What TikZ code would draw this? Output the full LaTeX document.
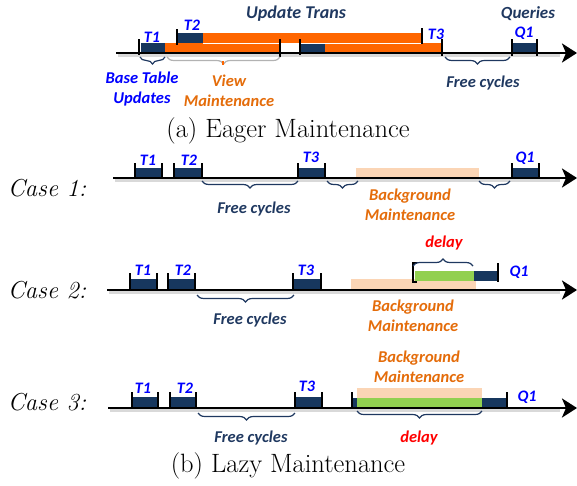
\documentclass[tikz,border=0pt]{standalone}
\usepackage{fontspec}
\newfontfamily\calib{Carlito}
\usetikzlibrary{arrows.meta,decorations.pathreplacing}
\definecolor{navy}{RGB}{31,56,96}
\definecolor{boxnavy}{RGB}{23,55,94}
\definecolor{org}{RGB}{255,102,0}
\definecolor{orgtxt}{RGB}{228,108,10}
\definecolor{peach}{RGB}{251,213,181}
\definecolor{grn}{RGB}{146,208,80}
\definecolor{lblue}{RGB}{0,0,255}
\tikzset{
  axisln/.style={line width=2.8pt,-{Stealth[length=15pt,width=19pt,inset=4pt]}},
  shadowln/.style={line width=3pt,black!15},
  tk/.style={line width=2.8pt},
  lab/.style={font=\calib\bfseries\itshape\fontsize{16}{16}\selectfont,text=lblue,inner sep=0},
  desc/.style={font=\calib\bfseries\itshape\fontsize{16.5}{19.5}\selectfont,align=center,inner sep=0},
  brc/.style={decorate,decoration={brace,amplitude=7pt,mirror},line width=1.2pt,navy},
  brcup/.style={decorate,decoration={brace,amplitude=7pt},line width=1.2pt,navy},
  captext/.style={font=\fontsize{26.5}{30}\selectfont,inner sep=0},
  casel/.style={font=\itshape\fontsize{24.5}{28}\selectfont,inner sep=0},
}
\begin{document}
\begin{tikzpicture}[x=1pt,y=-1pt]
\useasboundingbox (0,0) rectangle (577,485);
% ===== (a) Eager =====
\draw[shadowln] (118,55.5) -- (560,55.5);
\fill[boxnavy] (141,43) rectangle (165,53);
\fill[org] (165,43) rectangle (280,53);
\fill[boxnavy] (300,43) rectangle (325,53);
\fill[org] (325,43) rectangle (442,53);
\fill[boxnavy] (178,33) rectangle (203,43);
\fill[org] (203,33) rectangle (422,43);
\draw[white,line width=0.8pt] (203,43) -- (422,43);
\fill[boxnavy] (512,43) rectangle (537,53);
\draw[axisln] (116,53) -- (577,53);
\draw[tk] (139,39) -- (139,55);
\draw[tk] (280,39) -- (280,57);
\draw[tk] (177,29) -- (177,45);
\draw[tk] (300,39) -- (300,55);
\draw[tk] (422,28) -- (422,44);
\draw[tk] (442,39) -- (442,56);
\draw[tk] (512,39) -- (512,56);
\draw[tk] (537,39) -- (537,56);
\node[lab] (aT1) at (152,37) {T1};
\node[lab] (aT2) at (192,25) {T2};
\node[lab] (aT3) at (436,34) {T3};
\node[lab] (aQ1) at (524,33) {Q1};
\node[desc,text=navy,font=\calib\bfseries\itshape\fontsize{18}{20}\selectfont] (aUT) at (296,14) {Update Trans};
\node[desc,text=navy,font=\calib\bfseries\itshape\fontsize{17}{20}\selectfont] (aQ) at (528,14) {Queries};
\draw[brc] (140,57) -- (165,57);
\draw[brc,black!30] (167,57) -- (280,57);
\draw[org,line width=1.2pt] (223,61) -- (223,65);
\draw[brc] (445,57) -- (510,57);
\node[desc,text=lblue] (aBT) at (142,89) {Base Table\\Updates};
\node[desc,text=orgtxt] (aVM) at (229,91) {View\\Maintenance};
\node[desc,text=navy] (aFC) at (483,83) {Free cycles};
\node[captext] (capa) at (288,131) {(a) Eager Maintenance};
% ===== Case 1 =====
\node[casel] (c1) at (47,188) {Case 1:};
\draw[shadowln] (115,180.5) -- (560,180.5);
\fill[boxnavy] (135,168) rectangle (162,178);
\fill[boxnavy] (174,168) rectangle (202,178);
\fill[boxnavy] (298,168) rectangle (325,178);
\fill[boxnavy] (512,168) rectangle (539,178);
\fill[peach] (356,168) rectangle (479,177);
\draw[axisln] (113,178) -- (577,178);
\foreach \x in {135,162,174,202,298,325,512,539} \draw[tk] (\x,163) -- (\x,179);
\node[lab] (bT1) at (148,160) {T1};
\node[lab] (bT2) at (189,160) {T2};
\node[lab] (bT3) at (311,157) {T3};
\node[lab] (bQ1) at (525,158) {Q1};
\draw[brc] (202,181) -- (298,181);
\draw[brc] (327,181) -- (358,181);
\draw[brc] (479,181) -- (510,181);
\node[desc,text=navy] (bFC) at (254,209) {Free cycles};
\node[desc,text=orgtxt] (bBM) at (410,205) {Background\\Maintenance};
% ===== Case 2 =====
\node[casel] (c2) at (47,290) {Case 2:};
\draw[shadowln] (109,292.5) -- (560,292.5);
\fill[boxnavy] (130,279) rectangle (157,290);
\fill[boxnavy] (168,279) rectangle (195,290);
\fill[boxnavy] (293,279) rectangle (321,290);
\fill[peach] (351,279) rectangle (476,289);
\fill[grn] (415,271) rectangle (474,281);
\fill[boxnavy] (474,271) rectangle (498,281);
\draw[axisln] (107,290) -- (577,290);
\foreach \x in {130,157,168,195,293,321} \draw[tk] (\x,273) -- (\x,291);
\draw[tk] (417,263) -- (413,263) -- (413,282) -- (417,282);
\draw[tk] (498,263) -- (498,282);
\draw[brcup] (413,266) -- (473,266);
\node[lab] (cT1) at (143,270) {T1};
\node[lab] (cT2) at (183,270) {T2};
\node[lab] (cT3) at (306,270) {T3};
\node[lab] (cQ1) at (519,272) {Q1};
\node[desc,text=red] (cD) at (444,243) {delay};
\draw[brc] (197,295) -- (294,295);
\node[desc,text=navy] (cFC) at (250,320) {Free cycles};
\node[desc,text=orgtxt] (cBM) at (413,316) {Background\\Maintenance};
% ===== Case 3 =====
\node[casel] (c3) at (47,402) {Case 3:};
\draw[shadowln] (110,410.5) -- (560,410.5);
\fill[boxnavy] (132,397) rectangle (158,408);
\fill[boxnavy] (170,397) rectangle (196,408);
\fill[boxnavy] (295,397) rectangle (322,408);
\fill[boxnavy] (352,398) rectangle (357,408);
\fill[peach] (357,388) rectangle (482,398);
\fill[grn] (357,398) rectangle (482,408);
\fill[boxnavy] (482,398) rectangle (507,408);
\draw[axisln] (108,408) -- (577,408);
\foreach \x in {132,158,170,196,295,322,352,507} \draw[tk] (\x,392) -- (\x,409);
\node[lab] (dT1) at (143,388) {T1};
\node[lab] (dT2) at (185,388) {T2};
\node[lab] (dT3) at (307,386) {T3};
\node[lab] (dQ1) at (527,397) {Q1};
\draw[brc] (198,413) -- (295,413);
\draw[brc] (357,411) -- (482,411);
\node[desc,text=navy] (dFC) at (251,438) {Free cycles};
\node[desc,text=red] (dD) at (419,438) {delay};
\node[desc,text=orgtxt] (dBM) at (419,367) {Background\\Maintenance};
\node[captext] (capb) at (288,466) {(b) Lazy Maintenance};
\end{tikzpicture}
\end{document}
